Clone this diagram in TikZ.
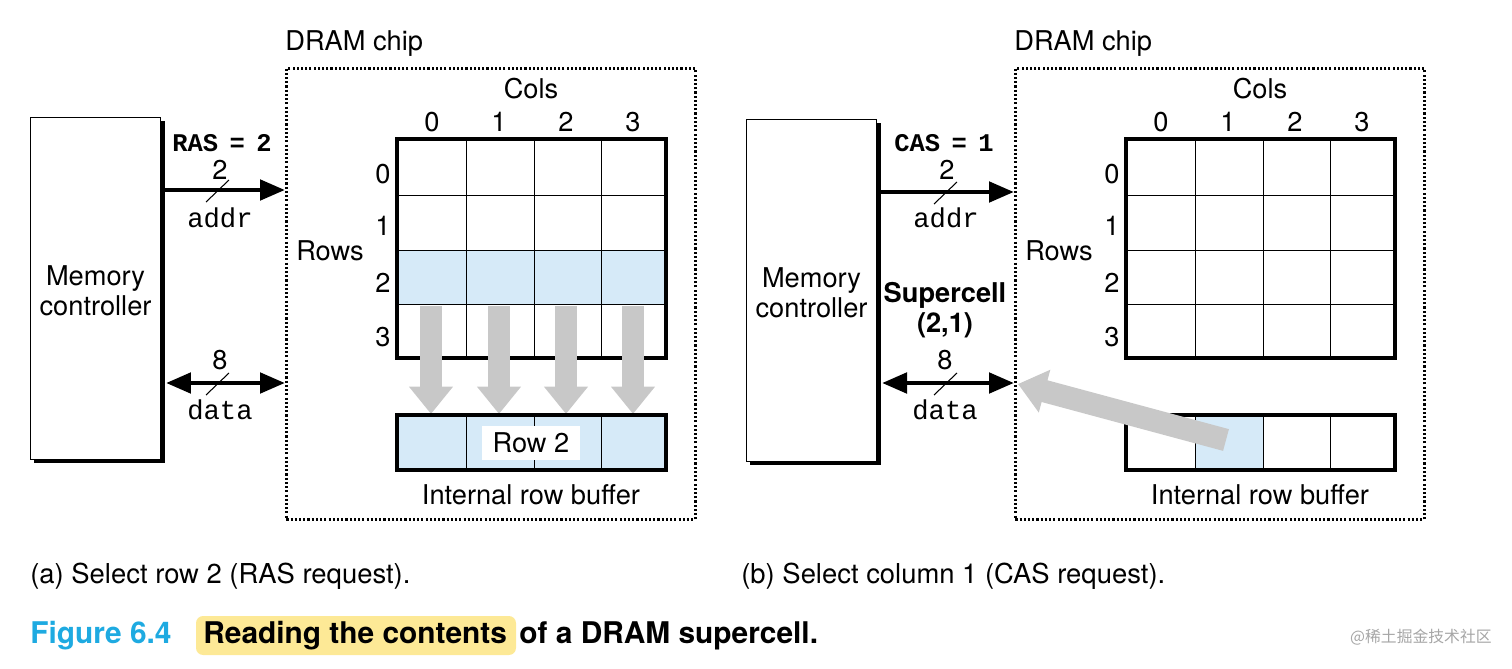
\documentclass[tikz,border=0pt]{standalone}
\usepackage{fontspec}
\setmainfont{TeX Gyre Heros}
\setmonofont{Liberation Mono}
\newfontfamily\cjk{Noto Sans CJK SC}
\usetikzlibrary{arrows.meta}
\definecolor{cellblue}{RGB}{214,234,248}
\definecolor{figcyan}{RGB}{30,170,225}
\definecolor{hl}{RGB}{253,233,150}
\definecolor{garrow}{RGB}{200,200,200}
\tikzset{
 lbl/.style={font=\fontsize{15.5}{17}\selectfont, inner sep=0pt},
 tt/.style={font=\fontsize{15.5}{17}\selectfont\ttfamily, inner sep=0pt},
 ttb/.style={font=\fontsize{14.5}{17}\selectfont\ttfamily\bfseries, inner sep=0pt},
 mc/.style={draw, line width=0.6pt, fill=white, inner sep=0pt},
 shadow/.style={fill=black},
 chip/.style={draw, dash pattern=on 1.2pt off 1.2pt, line width=1.6pt},
 grid/.style={line width=0.5pt},
 frame/.style={line width=1.8pt},
 bus/.style={line width=2.8pt},
 gbig/.style={-{Triangle[length=0.55cm,width=0.85cm]}, line width=0.45cm, draw=garrow},
 captxt/.style={font=\fontsize{15.6}{18}\selectfont, inner sep=0pt, anchor=west},
 figt/.style={font=\fontsize{17}{20}\selectfont\bfseries, inner sep=0pt, anchor=west},
}
\begin{document}
\begin{tikzpicture}[x=0.02cm,y=-0.02cm]
\useasboundingbox (0,0) rectangle (1512,669);
\foreach \ox/\p in {0/a,729/b}{
 \begin{scope}[xshift=\ox*0.02cm]
  \node[chip, minimum width=409*0.02cm, minimum height=451*0.02cm, anchor=north west] (chip\p) at (285,67) {};
  \node[lbl, anchor=south west] (chipl\p) at (285,57) {DRAM chip};
  \node[lbl] (cols\p) at (531,89) {Cols};
  \foreach \c/\x in {0/432,1/499,2/566,3/633}{\node[lbl] (c\p\c) at (\x,122) {\c};}
  \foreach \r/\y in {0/174,1/226,2/283,3/337}{\node[lbl] (r\p\r) at (383,\y) {\r};}
  \node[lbl] (rows\p) at (330,251) {Rows};
  \node[lbl] (irb\p) at (531,495) {Internal row buffer};
 \end{scope}
}
% ---------- left panel ----------
\fill[shadow] (34,121) rectangle (165,463);
\node[mc, minimum width=130*0.02cm, minimum height=342*0.02cm, anchor=north west] (mca) at (30,117) {};
\node[lbl, align=center] at ([yshift=-0.05cm]mca.center) {Memory\\controller};
\fill[cellblue] (397,250) rectangle (666,304);
\foreach \x in {466,534,601}{\draw[grid] (\x,139) -- (\x,358);}
\foreach \y in {195,250,304}{\draw[grid] (397,\y) -- (666,\y);}
\draw[frame] (397,139) -- (666,139) -- (666,358) -- (397,358) -- cycle;
\foreach \x in {431,499,566,633}{\draw[gbig] (\x,306) -- (\x,414);}
\fill[cellblue] (397,415) rectangle (666,470);
\foreach \x in {466,534,601}{\draw[grid] (\x,415) -- (\x,470);}
\draw[frame] (397,415) rectangle (666,470);
\node[lbl, fill=white, inner xsep=6pt, inner ysep=4pt] (row2) at (531,443) {Row 2};
\coordinate (aaddr) at (285,190); \coordinate (adata) at (285,383);
\draw[bus, -{Triangle[length=0.5cm,width=0.4cm]}] (165,190) -- (aaddr);
\draw[bus, {Triangle[length=0.5cm,width=0.4cm]}-{Triangle[length=0.5cm,width=0.4cm]}] (166,383) -- (adata);
\draw[line width=0.6pt] (206,202) -- (229,180);
\draw[line width=0.6pt] (206,395) -- (229,373);
\node[ttb] (ras) at (222,143) {RAS\hspace{-0.15em} = \hspace{-0.15em}2};
\node[lbl] at (220,170) {2};
\node[tt] at (220,218) {addr};
\node[lbl] at (220,360) {8};
\node[tt] at (220,410) {data};
% ---------- right panel ----------
\fill[shadow] (750,123) rectangle (881,465);
\node[mc, minimum width=130*0.02cm, minimum height=342*0.02cm, anchor=north west] (mcb) at (746,119) {};
\node[lbl, align=center] at ([yshift=-0.05cm]mcb.center) {Memory\\controller};
\foreach \x in {1195,1263,1330}{\draw[grid] (\x,139) -- (\x,358);}
\foreach \y in {195,250,304}{\draw[grid] (1126,\y) -- (1395,\y);}
\draw[frame] (1126,139) rectangle (1395,358);
\fill[cellblue] (1195,415) rectangle (1263,470);
\foreach \x in {1195,1263,1330}{\draw[grid] (\x,415) -- (\x,470);}
\draw[frame] (1126,415) rectangle (1395,470);
\coordinate (bsrc) at (1226,440);
\coordinate (bdst) at (1018,384);
\draw[gbig] (bsrc) -- (bdst);
\coordinate (baddr) at (1014,192); \coordinate (bdata) at (1014,383);
\draw[bus, -{Triangle[length=0.5cm,width=0.4cm]}] (881,192) -- (baddr);
\draw[bus, {Triangle[length=0.5cm,width=0.4cm]}-{Triangle[length=0.5cm,width=0.4cm]}] (882,383) -- (bdata);
\draw[line width=0.6pt] (934,204) -- (957,182);
\draw[line width=0.6pt] (934,395) -- (957,373);
\node[ttb] (cas) at (944,143) {CAS\hspace{-0.15em} = \hspace{-0.15em}1};
\node[lbl] at (947,170) {2};
\node[tt] at (946,218) {addr};
\node[lbl] at (945,360) {8};
\node[tt] at (945,410) {data};
\node[lbl, font=\fontsize{15.5}{17}\selectfont\bfseries, align=center] (sc) at (945,310) {Supercell\\(2,1)};
% ---------- captions ----------
\node[captxt] (capa) at (30,576) {(a) Select row 2 (RAS request).};
\node[captxt] (capb) at (741,576) {(b) Select column 1 (CAS request).};
\fill[hl, rounded corners=4pt] (196,616) rectangle (516,655);
\node[figt, text=figcyan] (fig) at (30,636) {Figure 6.4};
\node[figt] (figt1) at (203,636) {Reading the contents};
\node[figt] (figt2) at (519,636) {of a DRAM supercell.};
\node[font=\fontsize{9}{11}\selectfont\cjk, text=gray!70, anchor=east, inner sep=0pt] (wm) at (1492,637) {@稀土掘金技术社区};
\end{tikzpicture}
\end{document}
